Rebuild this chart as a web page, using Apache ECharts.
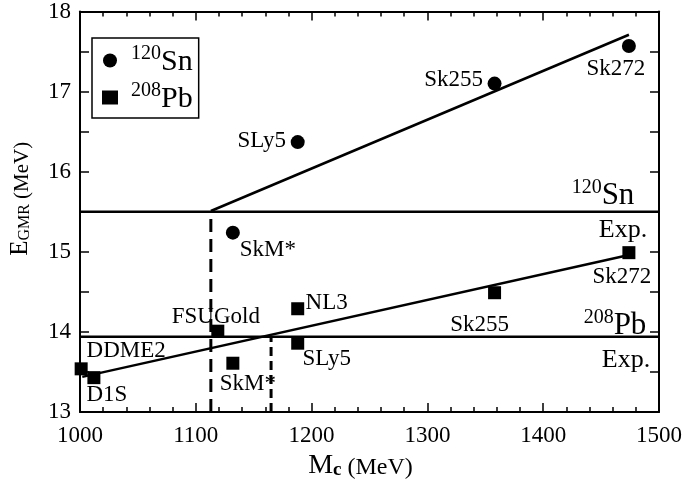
<!DOCTYPE html>
<html><head><meta charset="utf-8">
<script src="https://cdn.jsdelivr.net/npm/echarts@6/dist/echarts.min.js"></script>
<style>html,body{margin:0;padding:0;background:#fff}#c{width:685px;height:485px}</style></head>
<body><div id="c"></div>
<script>
// ---- data ----
const snNames = ['SLy5', 'SkM*', 'Sk255', 'Sk272'];
const snMc = [1188, 1132, 1358, 1474];
const snE = [16.37, 15.24, 17.10, 17.57];
const pbNames = ['DDME2', 'D1S', 'FSUGold', 'SkM*', 'NL3', 'SLy5', 'Sk255', 'Sk272'];
const pbMc = [1001, 1012, 1119, 1132, 1188, 1188, 1358, 1474];
const pbE = [13.54, 13.43, 14.01, 13.61, 14.29, 13.86, 14.49, 14.99];
const snFit = [[1113, 15.51], [1474, 17.71]];
const pbFit = [[1002, 13.44], [1474, 14.96]];
const snExp = 15.5;
const pbExp = 13.94;
const snCross = 1113;
const pbCross = 1165;
const xRange = [1000, 1500];
const yRange = [13, 18];

// ---- label styling (offsets from point, px) ----
const snLabelOffset = [[-36, -1], [35, 17], [-41, -4], [-13, 23]];
const pbLabelOffset = [[45, -18], [13, 17], [-2, -14], [15, 21], [29, -6], [29, 16], [-15, 32], [-7, 24]];

const FF = 'Liberation Serif';
const BLK = '#000';
const LBL = 23;

function pts(names, xs, ys, offs) {
  return names.map((n, i) => ({
    name: n, value: [xs[i], ys[i]],
    label: { offset: offs[i] }
  }));
}

function axisBase(minorSplit) {
  return {
    axisLine: { show: true, lineStyle: { color: BLK, width: 2 } },
    axisTick: { show: true, inside: true, length: 9, lineStyle: { color: BLK, width: 1.5 } },
    minorTick: { show: true, splitNumber: minorSplit, length: minorSplit === 2 ? 9 : 5, lineStyle: { color: BLK, width: 1.5 } },
    splitLine: { show: true, lineStyle: { color: 'rgba(0,0,0,0)', width: 0 } }
  };
}

const chart = echarts.init(document.getElementById('c'));

const isoRich = {
  sup: { fontSize: 20, fontFamily: FF, color: BLK, verticalAlign: 'top', lineHeight: 34 },
  big: { fontSize: 31, fontFamily: FF, color: BLK, verticalAlign: 'bottom', lineHeight: 34 }
};
const expStyle = { color: BLK, fontSize: 26, fontFamily: FF };

chart.setOption({
  animation: false,
  backgroundColor: '#fff',
  grid: { left: 74, right: 24, top: 9, bottom: 66 },
  legend: {
    data: ['Sn', 'Pb'],
    orient: 'vertical',
    left: 92, top: 38,
    borderColor: BLK, borderWidth: 1.5,
    padding: [6, 6, 4, 10],
    itemGap: 4,
    itemWidth: 16, itemHeight: 14,
    selectedMode: false,
    formatter: n => n === 'Sn' ? '{sup|120}{big|Sn}' : '{sup|208}{big|Pb}',
    textStyle: { padding: [0, 0, 0, 8], rich: {
      sup: { fontSize: 20, fontFamily: FF, color: BLK, verticalAlign: 'top', lineHeight: 33 },
      big: { fontSize: 30, fontFamily: FF, color: BLK, verticalAlign: 'bottom', lineHeight: 33 }
    } }
  },
  xAxis: [
    Object.assign({
      type: 'value', min: xRange[0], max: xRange[1], interval: 100, position: 'bottom',
      axisLabel: { color: BLK, fontSize: LBL, fontFamily: FF, margin: 12, formatter: v => String(v) },
      name: '{m|M}{c|c}{u| (MeV)}',
      nameLocation: 'middle', nameGap: 36,
      nameTextStyle: { padding: [0, 18, 0, 0], rich: {
        m: { fontSize: 28, fontFamily: FF, color: BLK, verticalAlign: 'bottom', lineHeight: 30 },
        c: { fontSize: 19, fontFamily: FF, fontWeight: 'bold', color: BLK, verticalAlign: 'bottom', lineHeight: 26 },
        u: { fontSize: 24, fontFamily: FF, color: BLK, verticalAlign: 'bottom', lineHeight: 28 }
      } }
    }, axisBase(5)),
    Object.assign({
      type: 'value', min: xRange[0], max: xRange[1], interval: 100, position: 'top',
      axisLabel: { show: false }
    }, axisBase(5))
  ],
  yAxis: [
    Object.assign({
      type: 'value', min: yRange[0], max: yRange[1], interval: 1, position: 'left',
      axisLabel: { color: BLK, fontSize: LBL, fontFamily: FF, margin: 9 },
      name: '{e|E}{s|GMR}{u| (MeV)}',
      nameLocation: 'middle', nameGap: 47,
      nameTextStyle: { padding: [0, 0, 0, 26], rich: {
        e: { fontSize: 25, fontFamily: FF, color: BLK, verticalAlign: 'bottom', lineHeight: 28 },
        s: { fontSize: 16, fontFamily: FF, color: BLK, verticalAlign: 'bottom', lineHeight: 22 },
        u: { fontSize: 21, fontFamily: FF, color: BLK, verticalAlign: 'bottom', lineHeight: 27 }
      } }
    }, axisBase(2)),
    Object.assign({
      type: 'value', min: yRange[0], max: yRange[1], interval: 1, position: 'right',
      axisLabel: { show: false }
    }, axisBase(2))
  ],
  series: [
    {
      name: 'Sn', type: 'scatter', symbol: 'circle', symbolSize: 14, z: 5,
      itemStyle: { color: BLK, opacity: 1 },
      label: { show: true, position: 'inside', formatter: '{b}', color: BLK, fontSize: LBL, fontFamily: FF },
      data: pts(snNames, snMc, snE, snLabelOffset)
    },
    {
      name: 'Pb', type: 'scatter', symbol: 'rect', symbolSize: 13, z: 5,
      itemStyle: { color: BLK, opacity: 1 },
      label: { show: true, position: 'inside', formatter: '{b}', color: BLK, fontSize: LBL, fontFamily: FF },
      data: pts(pbNames, pbMc, pbE, pbLabelOffset)
    },
    {
      name: 'snFit', type: 'line', showSymbol: false, silent: true,
      lineStyle: { color: BLK, width: 2.5 }, data: snFit
    },
    {
      name: 'pbFit', type: 'line', showSymbol: false, silent: true,
      lineStyle: { color: BLK, width: 2.5 }, data: pbFit
    },
    {
      name: 'snExp', type: 'line', showSymbol: false, silent: true,
      lineStyle: { color: BLK, width: 2.5 }, data: [[xRange[0], snExp], [xRange[1], snExp]],
      markPoint: {
        symbol: 'circle', symbolSize: 0, silent: true,
        data: [
          { coord: [xRange[1], snExp], label: { show: true, position: 'inside', offset: [-56, -17], formatter: '{sup|120}{big|Sn}', rich: isoRich } },
          { coord: [xRange[1], snExp], label: Object.assign({ show: true, position: 'inside', offset: [-36, 18], formatter: 'Exp.' }, expStyle) }
        ]
      }
    },
    {
      name: 'pbExp', type: 'line', showSymbol: false, silent: true,
      lineStyle: { color: BLK, width: 2.5 }, data: [[xRange[0], pbExp], [xRange[1], pbExp]],
      markPoint: {
        symbol: 'circle', symbolSize: 0, silent: true,
        data: [
          { coord: [xRange[1], pbExp], label: { show: true, position: 'inside', offset: [-44, -12], formatter: '{sup|208}{big|Pb}', rich: isoRich } },
          { coord: [xRange[1], pbExp], label: Object.assign({ show: true, position: 'inside', offset: [-33, 23], formatter: 'Exp.' }, expStyle) }
        ]
      }
    },
    {
      name: 'snCross', type: 'line', showSymbol: false, silent: true,
      lineStyle: { color: BLK, width: 3, type: [13, 7] }, data: [[snCross, yRange[0]], [snCross, snExp]]
    },
    {
      name: 'pbCross', type: 'line', showSymbol: false, silent: true,
      lineStyle: { color: BLK, width: 3, type: [9, 5] }, data: [[pbCross, yRange[0]], [pbCross, pbExp]]
    }
  ]
});
</script>
</body></html>
